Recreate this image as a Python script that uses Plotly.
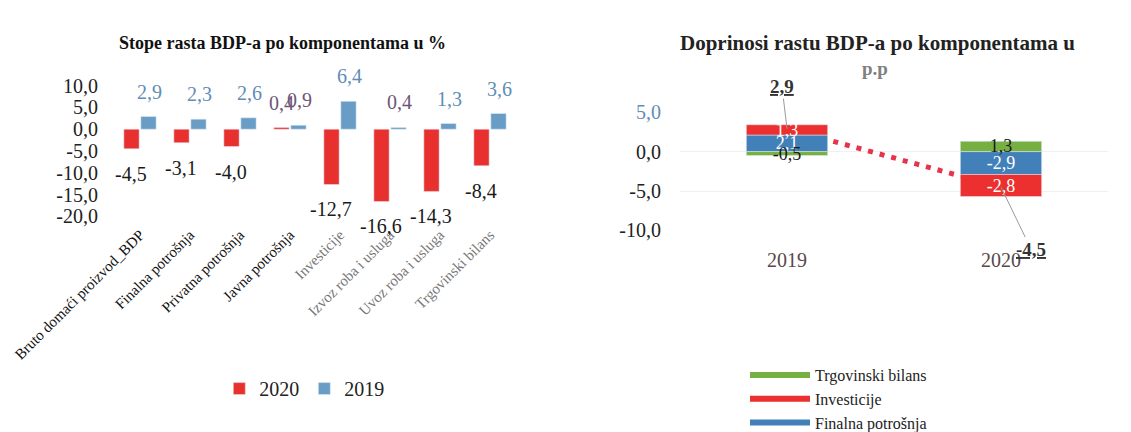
import plotly.graph_objects as go

# ---------------- data ----------------
categories = ["Bruto domaći proizvod_BDP", "Finalna potrošnja", "Privatna potrošnja",
              "Javna potrošnja", "Investicije", "Izvoz roba i usluga",
              "Uvoz roba i usluga", "Trgovinski bilans"]
growth_2020 = [-4.5, -3.1, -4.0, 0.4, -12.7, -16.6, -14.3, -8.4]
growth_2019 = [2.9, 2.3, 2.6, 0.9, 6.4, 0.4, 1.3, 3.6]
left_ticks = [10, 5, 0, -5, -10, -15, -20]

years = ["2019", "2020"]
finalna = [2.1, -2.9]
investicije = [1.3, -2.8]
trgovinski = [-0.5, 1.3]
bdp_total = [2.9, -4.5]
right_ticks = [5, 0, -5, -10]

# ---------------- styles ----------------
FONT = "Liberation Serif"
RED = "#E8312F"
BLUE19 = "#6A9DC6"
GREEN = "#76B043"
RED_S = "#EC2F2F"
BLUE_S = "#4280BA"
PURPLE = "#6E5577"
LBLUE = "#5F8DB5"


def fmt(v):
    return f"{v:.1f}".replace(".", ",")


fig = go.Figure()

# ---- left chart: grouped bars ----
fig.add_trace(go.Bar(x=categories, y=growth_2020, name="2020", marker_color=RED,
                     offsetgroup="a", xaxis="x", yaxis="y", legend="legend"))
fig.add_trace(go.Bar(x=categories, y=growth_2019, name="2019", marker_color=BLUE19,
                     offsetgroup="b", xaxis="x", yaxis="y", legend="legend"))

annotations = []
for c, v in zip(categories, growth_2020):
    col = PURPLE if v > 0 else "#1a1a1a"
    annotations.append(dict(x=c, y=v, xref="x", yref="y", text=fmt(v), showarrow=False,
                            xshift=-9, yshift=24 if v > 0 else -25,
                            font=dict(family=FONT, size=20, color=col)))
for c, v in zip(categories, growth_2019):
    col = PURPLE if v < 1.0 else LBLUE
    annotations.append(dict(x=c, y=v, xref="x", yref="y", text=fmt(v), showarrow=False,
                            xshift=9, yshift=25,
                            font=dict(family=FONT, size=20, color=col)))

# ---- right chart: dotted total line (base axes, behind bars) ----
fig.add_trace(go.Scatter(x=years, y=bdp_total, mode="lines",
                         line=dict(color="#E5344C", width=5, dash="5px,7px"),
                         showlegend=False, xaxis="x2", yaxis="y2"))

# ---- right chart: stacked bars on overlay axes ----
for name, vals, col, tcol in [("Finalna potrošnja", finalna, BLUE_S, "white"),
                              ("Investicije", investicije, RED_S, "white"),
                              ("Trgovinski bilans", trgovinski, GREEN, "#1a1a1a")]:
    fig.add_trace(go.Bar(x=years, y=vals, name=name, marker_color=col, width=0.38,
                         offsetgroup="s", texttemplate="%{y:.1f}", textposition="inside",
                         insidetextanchor="middle", constraintext="none",
                         textfont=dict(family=FONT, size=18, color=tcol),
                         showlegend=False, xaxis="x3", yaxis="y3"))

# legend entries for right chart (line symbols)
for name, col in [("Trgovinski bilans", GREEN), ("Investicije", RED_S),
                  ("Finalna potrošnja", BLUE_S)]:
    fig.add_trace(go.Scatter(x=[None], y=[None], mode="lines", name=name,
                             line=dict(color=col, width=6),
                             xaxis="x2", yaxis="y2", legend="legend2"))

# total labels with leader lines (x given as category index)
offsets = [(-5, -42), (30, 62)]
for i, (tot, (axp, ayp)) in enumerate(zip(bdp_total, offsets)):
    annotations.append(dict(x=i, y=tot, xref="x2", yref="y2",
                            text="<b><u>" + fmt(tot) + "</u></b>", showarrow=True,
                            arrowhead=0, arrowwidth=1, arrowcolor="#9a9a9a",
                            ax=axp, ay=ayp, font=dict(family=FONT, size=19, color="#333")))

# titles
annotations.append(dict(x=274 / 1131, y=1 - 37 / 432, xref="paper", yref="paper",
                        xanchor="center", yanchor="middle",
                        text="<b>Stope rasta BDP-a po komponentama u %</b>", showarrow=False,
                        font=dict(family=FONT, size=18, color="#111")))
annotations.append(dict(x=869 / 1131, y=1 - 37 / 432, xref="paper", yref="paper",
                        xanchor="center", yanchor="middle",
                        text="<b>Doprinosi rastu BDP-a po komponentama u</b>", showarrow=False,
                        font=dict(family=FONT, size=21, color="#222")))
annotations.append(dict(x=867 / 1131, y=1 - 64 / 432, xref="paper", yref="paper",
                        xanchor="center", yanchor="middle",
                        text="<b>p.p</b>", showarrow=False,
                        font=dict(family=FONT, size=19, color="#808080")))

left_ticktext = []
for i, c in enumerate(categories):
    col = "#111" if i < 4 else "#777"
    left_ticktext.append(f"<span style='color:{col}'>{c}</span>")

right_tickcols = [LBLUE, "#222", "#222", "#222"]
right_ticktext = [f"<span style='color:{col}'>{fmt(t)}</span>"
                  for t, col in zip(right_ticks, right_tickcols)]

fig.update_layout(
    width=1131, height=432, autosize=False,
    margin=dict(l=0, r=0, t=0, b=0, pad=0),
    paper_bgcolor="white", plot_bgcolor="rgba(0,0,0,0)",
    barmode="relative", bargap=0.32, bargroupgap=0.1,
    separators=",.",
    font=dict(family=FONT, color="#222"),
    annotations=annotations,
    xaxis=dict(domain=[105 / 1131, 507 / 1131], anchor="y", type="category",
               tickmode="array", tickvals=categories, ticktext=left_ticktext,
               tickangle=-45, tickfont=dict(family=FONT, size=15), automargin=False,
               showgrid=False, showline=False, ticks="", ticklabelstandoff=6),
    yaxis=dict(domain=[1 - 220 / 432, 1 - 82 / 432], anchor="x", range=[-20, 10],
               tickmode="array", tickvals=left_ticks, ticktext=[fmt(t) for t in left_ticks],
               tickfont=dict(family=FONT, size=20, color="#222"), automargin=False,
               showgrid=False, zeroline=False, showline=False, ticks="",
               ticklabelstandoff=14),
    xaxis2=dict(domain=[672 / 1131, 1100 / 1131], anchor="y2", type="category",
                categoryorder="array", categoryarray=years, range=[-0.5, 1.5],
                tickfont=dict(family=FONT, size=20, color="#5a4848"), automargin=False,
                showgrid=False, showline=False, ticks="", ticklabelstandoff=16),
    yaxis2=dict(domain=[1 - 235 / 432, 1 - 110 / 432], anchor="x2", range=[-10, 5],
                tickmode="array", tickvals=right_ticks, ticktext=right_ticktext,
                tickfont=dict(family=FONT, size=20), automargin=False,
                showgrid=True, gridcolor="#f0f0f0", zeroline=False, showline=False,
                ticks="", ticklabelstandoff=18),
    xaxis3=dict(overlaying="x2", anchor="y3", type="category", categoryorder="array",
                categoryarray=years, range=[-0.5, 1.5], visible=False, automargin=False),
    yaxis3=dict(overlaying="y2", anchor="x3", range=[-10, 5], visible=False,
                showgrid=False, zeroline=False, automargin=False),
    legend=dict(orientation="h", x=0.262, xanchor="center", y=1 - 402 / 432,
                yanchor="middle", font=dict(family=FONT, size=20, color="#222"),
                itemwidth=30, bgcolor="rgba(0,0,0,0)"),
    legend2=dict(orientation="v", x=737 / 1131, xanchor="left", y=1 - 370 / 432,
                 yanchor="top", font=dict(family=FONT, size=16, color="#222"),
                 itemwidth=60, tracegroupgap=0, bgcolor="rgba(0,0,0,0)"),
)

fig.write_html("out.html")
